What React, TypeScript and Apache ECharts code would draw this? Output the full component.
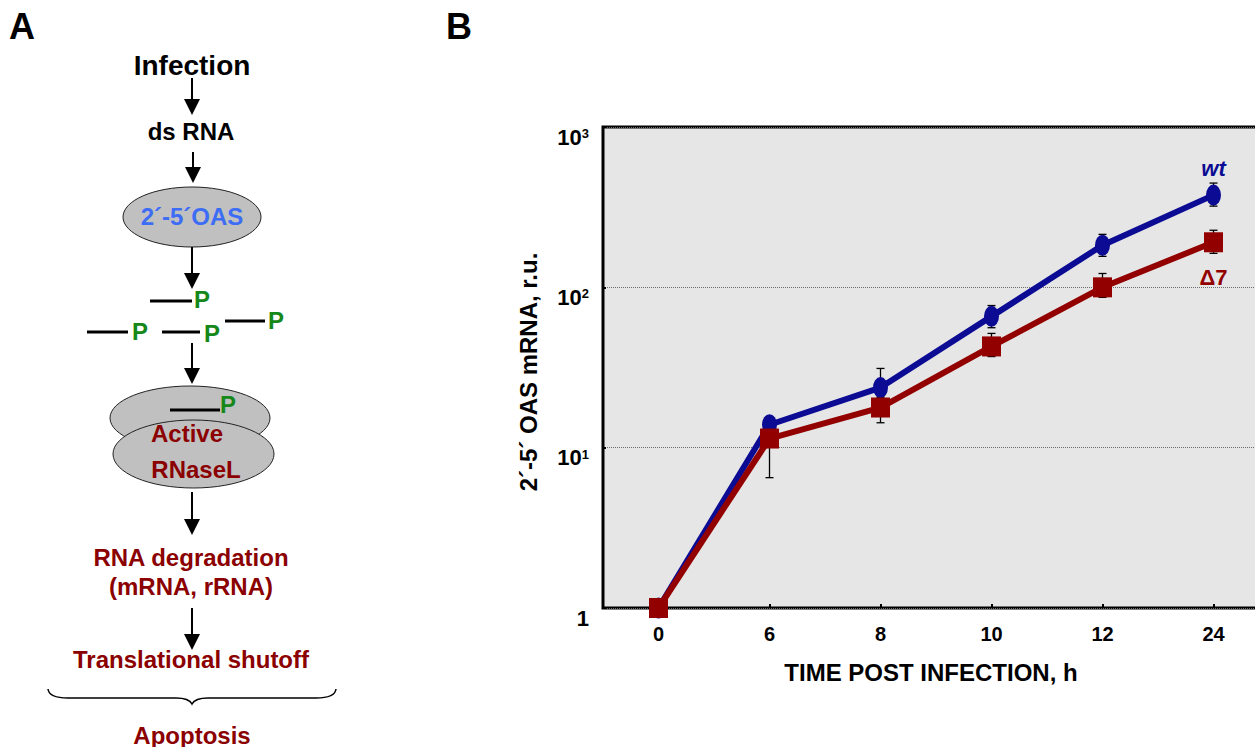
import React, { useEffect, useRef } from 'react';
import * as echarts from 'echarts';

// ---------- data ----------
const categories = ['0', '6', '8', '10', '12', '24'];
const wtValues = [1, 13.9, 23.7, 65.9, 183, 376];
const d7Values = [1, 11.4, 17.8, 42.8, 100, 191];
const wtLow = [null, 12.4, 20.5, 56, 156, 321];
const wtHigh = [null, 15.6, 31.2, 77, 214, 447];
const d7Low = [null, 6.5, 14.3, 37, 86.6, 163];
const d7High = [null, 13.3, 21, 51.6, 122, 227];
const seriesNames = ['wt', 'Δ7'];

// ---------- styles ----------
const FONT = '"Liberation Sans", Arial, Helvetica, sans-serif';
const BLUE = '#0b0b94';
const RED = '#920000';
const DARKRED = '#8b0000';
const GREEN = '#16881a';
const OASBLUE = '#3d6cf5';

const BRACE_D =
  'M48,689 Q49,698 68,698 L176,698 Q189,698 192,704 Q195,698 208,698 L316,698 Q335,698 336,689';
echarts.graphic.registerShape('brace', echarts.graphic.extendPath(BRACE_D, {}));

const ELLIPSE_SYMBOL = 'path://M0,10A10,10,0,1,1,20,10A10,10,0,1,1,0,10Z';

function txt(text: string, x: number, y: number, color: string, size = 24, extra: any = {}) {
  return {
    type: 'text',
    x,
    y,
    z: 100,
    ...extra,
    style: {
      text,
      fill: color,
      fontSize: size,
      fontWeight: 'bold',
      fontFamily: FONT,
      align: 'center',
      verticalAlign: 'middle',
      textAlign: 'center',
      textVerticalAlign: 'middle',
      ...(extra.style || {}),
    },
  };
}

function arrow(x: number, y1: number, y2: number) {
  return [
    { type: 'line', z: 100, shape: { x1: x, y1, x2: x, y2: y2 - 12 }, style: { stroke: '#000', lineWidth: 2 } },
    {
      type: 'polygon',
      z: 100,
      shape: { points: [[x - 8, y2 - 16], [x + 8, y2 - 16], [x, y2]] },
      style: { fill: '#000' },
    },
  ];
}

function bar(x1: number, y: number, x2: number) {
  return { type: 'line', z: 100, shape: { x1, y1: y, x2, y2: y }, style: { stroke: '#000', lineWidth: 3 } };
}

function errData(low: (number | null)[], high: (number | null)[]) {
  const out: number[][] = [];
  categories.forEach((_, i) => {
    if (low[i] != null && high[i] != null) out.push([i, low[i] as number, high[i] as number]);
  });
  return out;
}

function renderErr(params: any, api: any) {
  const i = api.value(0);
  const lo = api.coord([i, api.value(1)]);
  const hi = api.coord([i, api.value(2)]);
  const w = 4;
  const style = { stroke: '#000', lineWidth: 1.3 };
  return {
    type: 'group',
    children: [
      { type: 'line', shape: { x1: lo[0], y1: lo[1], x2: hi[0], y2: hi[1] }, style },
      { type: 'line', shape: { x1: lo[0] - w, y1: lo[1], x2: lo[0] + w, y2: lo[1] }, style },
      { type: 'line', shape: { x1: hi[0] - w, y1: hi[1], x2: hi[0] + w, y2: hi[1] }, style },
    ],
  };
}

export default function App() {
  const ref = useRef<HTMLDivElement>(null);

  useEffect(() => {
    if (!ref.current) return;
    const chart = echarts.init(ref.current, null, { renderer: 'svg' });

    const graphic: any[] = [
      // panel letters
      txt('A', 22, 26, '#000', 36),
      txt('B', 459, 26, '#000', 36),
      // panel A
      txt('Infection', 192, 65, '#000', 28),
      ...arrow(192, 78, 115),
      txt('ds RNA', 191, 131, '#000', 24),
      ...arrow(193, 152, 183),
      { type: 'ellipse', z: 99, shape: { cx: 192, cy: 217, rx: 69, ry: 30 }, style: { fill: '#c0c0c0', stroke: '#222', lineWidth: 1 } },
      txt('2´-5´OAS', 192, 216, OASBLUE, 24),
      ...arrow(192, 247, 289),
      bar(150, 301, 192),
      txt('P', 202, 299, GREEN, 24),
      bar(87, 332, 128),
      txt('P', 140, 331, GREEN, 24),
      bar(162, 332, 200),
      txt('P', 212, 333, GREEN, 24),
      bar(225, 321, 265),
      txt('P', 276, 320, GREEN, 24),
      ...arrow(192, 343, 384),
      { type: 'ellipse', z: 98, shape: { cx: 190, cy: 418, rx: 80, ry: 32 }, style: { fill: '#c0c0c0', stroke: '#222', lineWidth: 1 } },
      { type: 'line', z: 98, shape: { x1: 170, y1: 410, x2: 220, y2: 410 }, style: { stroke: '#000', lineWidth: 3 } },
      txt('P', 228, 404, GREEN, 24, { z: 98 }),
      { type: 'ellipse', z: 99, shape: { cx: 193.5, cy: 454, rx: 80.5, ry: 34 }, style: { fill: '#c0c0c0', stroke: '#222', lineWidth: 1 } },
      txt('Active', 187, 433, DARKRED, 24),
      txt('RNaseL', 196, 469, DARKRED, 24),
      ...arrow(192, 492, 535),
      txt('RNA degradation', 191, 557, DARKRED, 24),
      txt('(mRNA, rRNA)', 191, 586, DARKRED, 24),
      ...arrow(192, 608, 650),
      txt('Translational shutoff', 191, 659, DARKRED, 24),
      { type: 'brace', z: 100, x: 0, y: 0, style: { stroke: '#000', fill: 'none', lineWidth: 1.5 } },
      txt('Apoptosis', 192, 735, DARKRED, 24),
      // panel B axis titles
      txt('TIME POST INFECTION, h', 931, 672, '#000', 24),
      txt('2´-5´ OAS mRNA, r.u.', 528, 372, '#000', 24, { rotation: Math.PI / 2 }),
    ];

    const lastLabel = (name: string, color: string, pos: string, dist: number, italic: boolean) => ({
      show: true,
      position: pos,
      distance: dist,
      formatter: name,
      color,
      fontSize: 22,
      fontWeight: 'bold',
      fontStyle: italic ? 'italic' : 'normal',
      fontFamily: FONT,
    });

    const option: any = {
      animation: false,
      grid: {
        left: 603,
        top: 127,
        width: 666,
        height: 481,
        show: true,
        backgroundColor: '#e6e6e6',
        borderColor: '#000',
        borderWidth: 3,
        containLabel: false,
        outerBoundsMode: 'none',
      },
      xAxis: {
        type: 'category',
        data: categories,
        boundaryGap: true,
        axisLine: { show: false },
        axisTick: { show: true, inside: true, alignWithLabel: true, length: 4, lineStyle: { color: '#000', width: 2 } },
        axisLabel: { margin: 16, fontSize: 20, fontWeight: 'bold', fontFamily: FONT, color: '#000', interval: 0 },
        splitLine: { show: false },
      },
      yAxis: {
        type: 'log',
        logBase: 10,
        min: 1,
        max: 1000,
        axisLine: { show: false },
        axisTick: { show: true, inside: true, length: 3, lineStyle: { color: '#000', width: 2 } },
        minorTick: { show: false },
        splitLine: { show: true, lineStyle: { type: 'dotted', color: '#6e6e6e', width: 1 } },
        axisLabel: {
          margin: 14,
          showMinLabel: true,
          showMaxLabel: true,
          verticalAlign: 'top',
          fontSize: 22,
          fontWeight: 'bold',
          fontFamily: FONT,
          color: '#000',
          lineHeight: 20,
          formatter: (v: number) => (v === 1 ? '{b|1}' : `{b|10}{s|${Math.round(Math.log10(v))}}`),
          rich: {
            b: { fontSize: 22, fontWeight: 'bold', fontFamily: FONT, color: '#000', lineHeight: 20 },
            s: { fontSize: 13, fontWeight: 'bold', fontFamily: FONT, color: '#000', lineHeight: 13, verticalAlign: 'top' },
          },
        },
      },
      series: [
        {
          type: 'custom',
          name: 'wt-err',
          z: 1,
          clip: false,
          renderItem: renderErr,
          encode: { x: 0, y: [1, 2] },
          data: errData(wtLow, wtHigh),
        },
        {
          type: 'custom',
          name: 'd7-err',
          z: 1,
          clip: false,
          renderItem: renderErr,
          encode: { x: 0, y: [1, 2] },
          data: errData(d7Low, d7High),
        },
        {
          type: 'line',
          name: seriesNames[0],
          z: 3,
          symbol: ELLIPSE_SYMBOL,
          symbolSize: [15, 21],
          showAllSymbol: true,
          itemStyle: { color: BLUE },
          lineStyle: { color: BLUE, width: 6 },
          label: { show: false },
          data: wtValues.map((v, i) =>
            i === wtValues.length - 1 ? { value: v, label: lastLabel(seriesNames[0], BLUE, 'top', 5, true) } : v
          ),
        },
        {
          type: 'line',
          name: seriesNames[1],
          z: 4,
          symbol: 'rect',
          symbolSize: [19, 20],
          showAllSymbol: true,
          itemStyle: { color: RED },
          lineStyle: { color: RED, width: 6 },
          label: { show: false },
          data: d7Values.map((v, i) =>
            i === d7Values.length - 1 ? { value: v, label: lastLabel(seriesNames[1], RED, 'bottom', 14, false) } : v
          ),
        },
      ],
      graphic,
    };

    chart.setOption(option);
    return () => chart.dispose();
  }, []);

  return (
    <div
      ref={ref}
      style={{ position: 'absolute', left: 0, top: 0, width: 1255, height: 747, background: '#fff' }}
    />
  );
}
